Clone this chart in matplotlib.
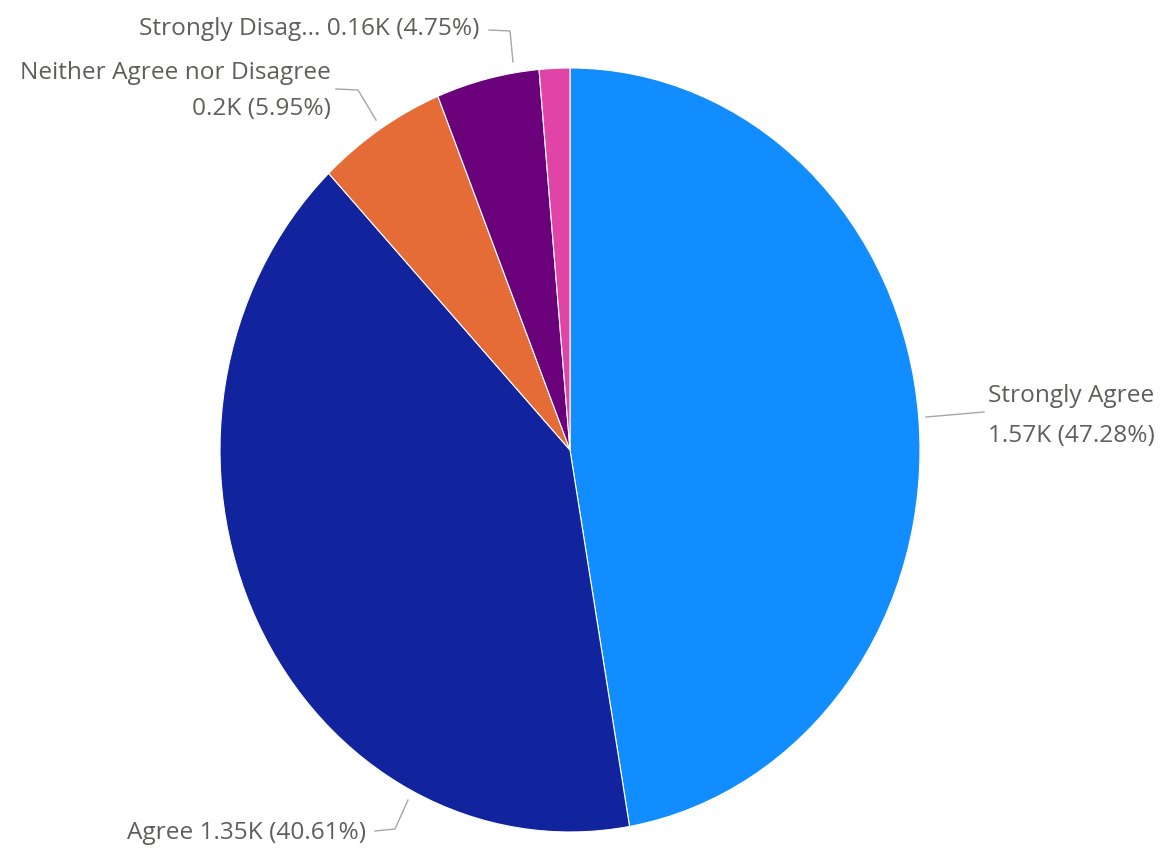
import matplotlib
matplotlib.use('Agg')
import matplotlib.pyplot as plt

CATEGORIES = ['Strongly Agree', 'Agree', 'Neither Agree nor Disagree', 'Strongly Disagree', 'Disagree']
COUNTS = [1570, 1350, 198, 158, 47]
PERCENTS = [47.28, 40.61, 5.95, 4.75, 1.41]
COLORS = ['#118DFF', '#12239E', '#E66C37', '#6B007B', '#E044A7']

W, H = 1163, 852
CX, CY = 570, 450        # pie centre in pixels
RX, RY = 350, 382        # the original is slightly stretched vertically

TEXT_COLOR = '#605E5C'
LINE_COLOR = '#A6A6A6'

plt.rcParams['font.family'] = ['Open Sans', 'DejaVu Sans']

fig = plt.figure(figsize=(W / 100, H / 100), dpi=100)
ax = fig.add_axes([0, 0, 1, 1])
ax.pie(PERCENTS, colors=COLORS, startangle=90, counterclock=False,
       wedgeprops=dict(edgecolor='white', linewidth=0.8))
ax.set_aspect('auto')
ax.set_xlim(-CX / RX, (W - CX) / RX)
ax.set_ylim(-(H - CY) / RY, CY / RY)
ax.axis('off')

# overlay in pixel coordinates for labels and leader lines
ov = fig.add_axes([0, 0, 1, 1], facecolor='none')
ov.set_xlim(0, W)
ov.set_ylim(H, 0)
ov.axis('off')


def fmt_k(v):
    s = f'{v / 1000:.2f}'.rstrip('0').rstrip('.')
    return s + 'K'


lbl = [f'{fmt_k(c)} ({p:.2f}%)' for c, p in zip(COUNTS, PERCENTS)]
fs = 17.6

# Strongly Agree
ov.plot([926, 984], [417, 412], color=LINE_COLOR, lw=1)
ov.text(988, 396, CATEGORIES[0], ha='left', va='center', fontsize=fs, color=TEXT_COLOR)
ov.text(988, 436, lbl[0], ha='left', va='center', fontsize=fs, color=TEXT_COLOR)

# Agree
ov.plot([408, 395, 375], [800, 829, 831], color=LINE_COLOR, lw=1)
ov.text(366, 833, f'{CATEGORIES[1]} {lbl[1]}', ha='right', va='center', fontsize=fs, color=TEXT_COLOR)

# Neither Agree nor Disagree
ov.plot([376, 358, 336], [120, 90, 89], color=LINE_COLOR, lw=1)
ov.text(331, 73, CATEGORIES[2], ha='right', va='center', fontsize=fs, color=TEXT_COLOR)
ov.text(331, 109, lbl[2], ha='right', va='center', fontsize=fs, color=TEXT_COLOR)

# Strongly Disagree (truncated like the original)
ov.plot([513, 510, 489], [62, 31, 30], color=LINE_COLOR, lw=1)
ov.text(479, 29, f'Strongly Disag... {lbl[3]}', ha='right', va='center', fontsize=fs, color=TEXT_COLOR)

fig.savefig('out.png', dpi=100, facecolor='white')
